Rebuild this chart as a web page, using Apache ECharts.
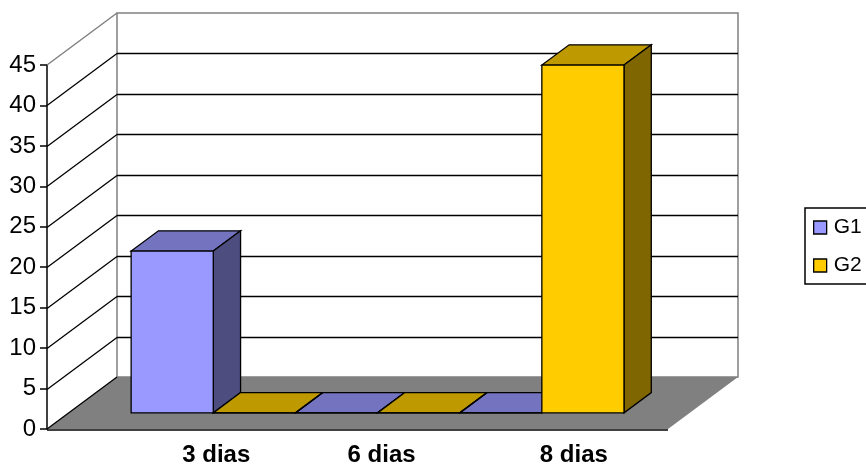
<!DOCTYPE html>
<html>
<head>
<meta charset="utf-8">
<script src="https://cdn.jsdelivr.net/npm/echarts@6/dist/echarts.min.js"></script>
<style>
html, body { margin: 0; padding: 0; background: #fff; }
#chart { width: 866px; height: 465px; }
</style>
</head>
<body>
<div id="chart"></div>
<script>
var categories = ['3 dias', '6 dias', '8 dias'];
var seriesNames = ['G1', 'G2'];
var g1Values = [20, 0, 0];
var g2Values = [0, 0, 43];
var yMin = 0, yMax = 45, yStep = 5;

// look of the fake 3D box
var FONT = 'Liberation Sans, Arial, sans-serif';
var DEPTH = [70, -52];          // floor depth vector, px
var BAR_D0 = 0.31, BAR_D1 = 0.70; // bar front/back as fraction of depth
var X_MIN = -0.88, X_MAX = 2.9;   // floor extent in category units
var labelNudge = [3, 4, 32];
var faces = {
    G1: {front: '#9999FF', top: '#7373BF', side: '#4D4D80'},
    G2: {front: '#FFCC00', top: '#BF9900', side: '#806600'}
};

function line(x1, y1, x2, y2, color, w) {
    return {type: 'line', shape: {x1: x1, y1: y1, x2: x2, y2: y2},
            style: {stroke: color, lineWidth: w || 1}};
}

function renderFrame(params, api) {
    var D = DEPTH;
    var fl = api.coord([X_MIN, yMin]), fr = api.coord([X_MAX, yMin]);
    var top = api.coord([X_MIN, yMax])[1];
    var kids = [];
    // back wall
    kids.push({type: 'polygon', shape: {points: [
        [fl[0] + D[0], top + D[1]], [fr[0] + D[0], top + D[1]],
        [fr[0] + D[0], fl[1] + D[1]], [fl[0] + D[0], fl[1] + D[1]]]},
        style: {fill: '#fff', stroke: '#808080', lineWidth: 1.5}});
    kids.push(line(fl[0], top, fl[0] + D[0], top + D[1], '#808080', 1.5));
    // grid lines on left + back wall
    for (var v = yMin + yStep; v < yMax; v += yStep) {
        var y = Math.round(api.coord([X_MIN, v])[1]) + 0.5;
        kids.push(line(fl[0], y, fl[0] + D[0], y + D[1], '#000', 1.3));
        kids.push(line(fl[0] + D[0], y + D[1], fr[0] + D[0], y + D[1], '#000', 1.3));
    }
    // floor
    kids.push({type: 'polygon', shape: {points: [
        [fl[0], fl[1]], [fr[0], fr[1]], [fr[0] + D[0], fr[1] + D[1]], [fl[0] + D[0], fl[1] + D[1]]]},
        style: {fill: '#808080'}});
    kids.push(line(fl[0], fl[1], fl[0] + D[0], fl[1] + D[1], '#000', 1.3));
    kids.push(line(fl[0], fl[1] + 1, fr[0], fr[1] + 1, '#000', 1.5));
    // category labels
    for (var i = 0; i < categories.length; i++) {
        var cx = api.coord([i, 0])[0] + D[0] * BAR_D0 + labelNudge[i];
        kids.push({type: 'text', x: cx, y: fl[1] + 14, style: {
            text: categories[i], fill: '#000', align: 'center', verticalAlign: 'top',
            font: 'bold 24px ' + FONT}});
    }
    return {type: 'group', children: kids};
}

function barRenderer(slot, face) {
    return function (params, api) {
        var i = api.value(0), v = api.value(1);
        var x0 = i - 0.5 + slot * 0.5, x1 = x0 + 0.5;
        var bl = api.coord([x0, 0]), br = api.coord([x1, 0]), tl = api.coord([x0, v]);
        var fx = DEPTH[0] * BAR_D0, fy = DEPTH[1] * BAR_D0;
        var dx = DEPTH[0] * (BAR_D1 - BAR_D0), dy = DEPTH[1] * (BAR_D1 - BAR_D0);
        var L = bl[0] + fx, R = br[0] + fx, B = bl[1] + fy, T = tl[1] + fy;
        var st = function (c) { return {fill: c, stroke: '#000', lineWidth: 1.3}; };
        return {type: 'group', children: [
            {type: 'polygon', shape: {points: [[L, T], [R, T], [R + dx, T + dy], [L + dx, T + dy]]}, style: st(face.top)},
            {type: 'polygon', shape: {points: [[R, T], [R + dx, T + dy], [R + dx, B + dy], [R, B]]}, style: st(face.side)},
            {type: 'polygon', shape: {points: [[L, T], [R, T], [R, B], [L, B]]}, style: st(face.front)}
        ]};
    };
}

function toData(vals) {
    return vals.map(function (v, i) { return [i, v]; });
}

var chart = echarts.init(document.getElementById('chart'));
chart.setOption({
    animation: false,
    grid: {left: 47, right: 198, top: 65, bottom: 36},
    xAxis: {type: 'value', min: X_MIN, max: X_MAX, show: false,
            axisLine: {show: false, onZero: false}, axisTick: {show: false},
            axisLabel: {show: false}, splitLine: {show: false}},
    yAxis: {
        type: 'value', min: yMin, max: yMax, interval: yStep,
        axisLine: {show: true, onZero: false, lineStyle: {color: '#000', width: 1.5}},
        axisTick: {show: true, length: 7, lineStyle: {color: '#000', width: 1.5}},
        axisLabel: {margin: 11, fontSize: 24, color: '#000', fontFamily: FONT},
        splitLine: {show: false}
    },
    legend: {
        orient: 'vertical', left: 805, top: 208,
        data: seriesNames.map(function (n) { return {name: n, icon: 'rect'}; }),
        itemWidth: 13, itemHeight: 13, itemGap: 17,
        padding: [9, 10, 8, 8],
        borderColor: '#000', borderWidth: 1.5,
        itemStyle: {borderColor: '#000', borderWidth: 1.3},
        textStyle: {fontSize: 21, color: '#000', fontFamily: FONT, padding: [0, 0, 0, 2]}
    },
    series: [
        {type: 'custom', name: 'frame', silent: true, z: 1, clip: false,
         data: [[X_MIN, yMin]], renderItem: renderFrame},
        {type: 'custom', name: 'G1', z: 2, clip: false, encode: {x: 0, y: 1},
         itemStyle: {color: faces.G1.front}, data: toData(g1Values),
         renderItem: barRenderer(0, faces.G1)},
        {type: 'custom', name: 'G2', z: 2, clip: false, encode: {x: 0, y: 1},
         itemStyle: {color: faces.G2.front}, data: toData(g2Values),
         renderItem: barRenderer(1, faces.G2)}
    ]
});
</script>
</body>
</html>
